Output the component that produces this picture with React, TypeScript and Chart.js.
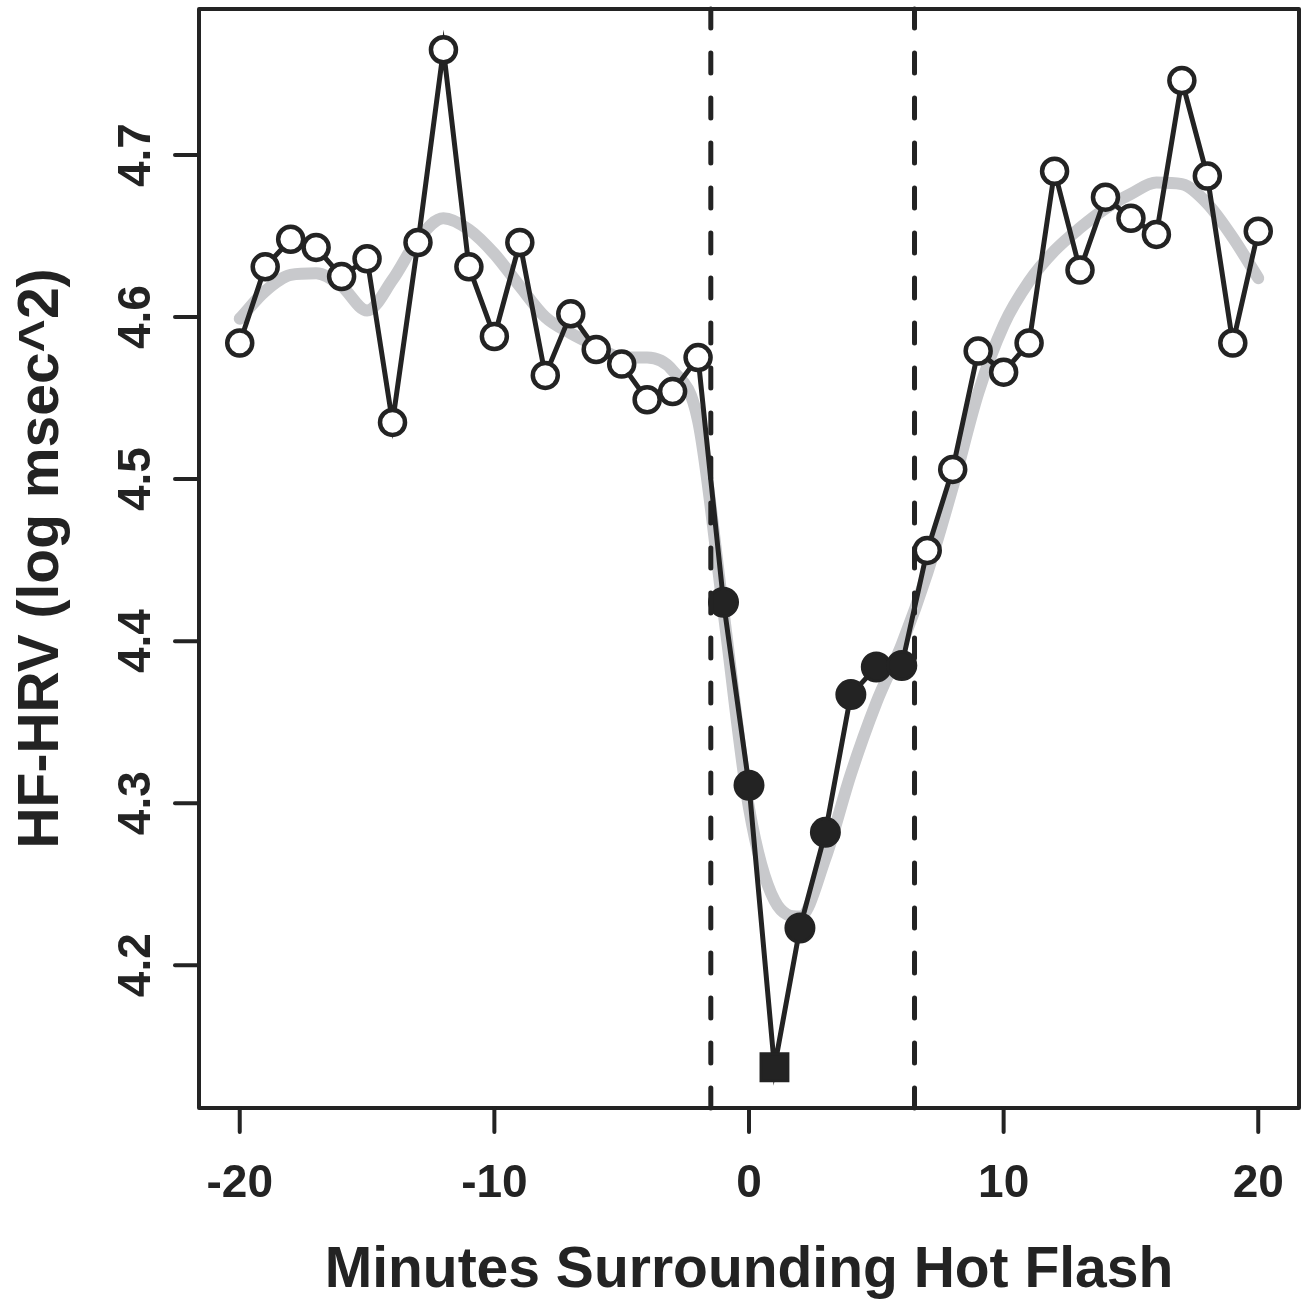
import React, { useEffect, useRef } from "react";
import { Chart, registerables } from "chart.js";

Chart.register(...registerables);

// ---- data ----
const minutes = [
  -20, -19, -18, -17, -16, -15, -14, -13, -12, -11, -10, -9, -8, -7, -6, -5, -4, -3, -2, -1,
  0, 1, 2, 3, 4, 5, 6, 7, 8, 9, 10, 11, 12, 13, 14, 15, 16, 17, 18, 19, 20,
];
const hfHrv = [
  4.584, 4.631, 4.648, 4.643, 4.625, 4.636, 4.535, 4.646, 4.765, 4.631, 4.588, 4.646, 4.564,
  4.602, 4.580, 4.571, 4.549, 4.554, 4.575, 4.424, 4.311, 4.137, 4.223, 4.282, 4.367, 4.384,
  4.385, 4.456, 4.506, 4.579, 4.566, 4.584, 4.690, 4.629, 4.674, 4.661, 4.651, 4.746, 4.687,
  4.584, 4.653,
];
const smoothFit = [
  4.599, 4.616, 4.626, 4.627, 4.619, 4.604, 4.623, 4.648, 4.661, 4.654, 4.639, 4.619, 4.600,
  4.590, 4.582, 4.575, 4.575, 4.567, 4.536, 4.418, 4.297, 4.240, 4.230, 4.266, 4.318, 4.362,
  4.398, 4.442, 4.495, 4.553, 4.595, 4.622, 4.641, 4.655, 4.667, 4.676, 4.683, 4.682, 4.670,
  4.649, 4.624,
];
const filledMinutes = [-1, 0, 1, 2, 3, 4, 5, 6];
const squareMinutes = [1];
const flashBounds = [-1.5, 6.5];
const xTicks = [-20, -10, 0, 10, 20];
const yTicks = [4.2, 4.3, 4.4, 4.5, 4.6, 4.7];
const xTitle = "Minutes Surrounding Hot Flash";
const yTitle = "HF-HRV (log msec^2)";

const INK = "#232323";
const GREY = "#c8c9cc";
const FONT = '"Liberation Sans", Arial, Helvetica, sans-serif';

const xMinData = Math.min(...minutes);
const xMaxData = Math.max(...minutes);
const yMinData = Math.min(...hfHrv);
const yMaxData = Math.max(...hfHrv);
const xExt = (xMaxData - xMinData) * 0.04;
const yExt = (yMaxData - yMinData) * 0.04;

const rAxesPlugin = {
  id: "rAxes",
  afterDatasetsDraw(chart: any) {
    const { ctx, chartArea: a, scales } = chart;
    const x = scales.x;
    const y = scales.y;
    ctx.save();
    ctx.strokeStyle = INK;
    ctx.fillStyle = INK;

    // dashed hot-flash boundaries
    ctx.lineWidth = 5;
    ctx.lineCap = "round";
    ctx.setLineDash([20, 25]);
    flashBounds.forEach((v) => {
      const px = x.getPixelForValue(v);
      ctx.beginPath();
      ctx.moveTo(px, a.bottom);
      ctx.lineTo(px, a.top);
      ctx.stroke();
    });
    ctx.setLineDash([]);

    // box
    ctx.lineWidth = 4;
    ctx.lineJoin = "round";
    ctx.lineCap = "round";
    ctx.strokeRect(a.left, a.top, a.right - a.left, a.bottom - a.top);

    // ticks
    xTicks.forEach((v) => {
      const px = x.getPixelForValue(v);
      ctx.beginPath();
      ctx.moveTo(px, a.bottom);
      ctx.lineTo(px, a.bottom + 24);
      ctx.stroke();
    });
    yTicks.forEach((v) => {
      const py = y.getPixelForValue(v);
      ctx.beginPath();
      ctx.moveTo(a.left, py);
      ctx.lineTo(a.left - 24, py);
      ctx.stroke();
    });

    // tick labels
    ctx.font = `bold 46px ${FONT}`;
    ctx.textAlign = "center";
    ctx.textBaseline = "alphabetic";
    xTicks.forEach((v) => {
      ctx.fillText(String(v), x.getPixelForValue(v), a.bottom + 89);
    });
    yTicks.forEach((v) => {
      ctx.save();
      ctx.translate(a.left - 49, y.getPixelForValue(v));
      ctx.rotate(-Math.PI / 2);
      ctx.fillText(v.toFixed(1), 0, 0);
      ctx.restore();
    });

    // titles
    ctx.font = `bold 57px ${FONT}`;
    ctx.fillText(xTitle, (a.left + a.right) / 2, a.bottom + 179);
    ctx.save();
    ctx.translate(a.left - 141, (a.top + a.bottom) / 2);
    ctx.rotate(-Math.PI / 2);
    ctx.fillText(yTitle, 0, 0);
    ctx.restore();

    ctx.restore();
  },
};

export default function App() {
  const canvasRef = useRef<HTMLCanvasElement | null>(null);

  useEffect(() => {
    const canvas = canvasRef.current;
    if (!canvas) return;

    const isFilled = minutes.map((m) => filledMinutes.includes(m));
    const isSquare = minutes.map((m) => squareMinutes.includes(m));

    const chart = new Chart(canvas, {
      type: "line",
      data: {
        datasets: [
          {
            label: "observed",
            data: minutes.map((m, i) => ({ x: m, y: hfHrv[i] })),
            borderColor: INK,
            borderWidth: 5,
            tension: 0,
            fill: false,
            pointStyle: isSquare.map((s) => (s ? "rect" : "circle")) as any,
            pointRadius: minutes.map((_, i) => (isSquare[i] ? 19 : isFilled[i] ? 14 : 12.5)),
            pointBorderWidth: minutes.map((_, i) => (isFilled[i] ? 3 : 4.5)),
            pointBackgroundColor: isFilled.map((f) => (f ? INK : "#ffffff")),
            pointBorderColor: INK,
            order: 1,
            clip: false as any,
          },
          {
            label: "smooth",
            data: minutes.map((m, i) => ({ x: m, y: smoothFit[i] })),
            borderColor: GREY,
            borderWidth: 12,
            borderCapStyle: "round",
            borderJoinStyle: "round",
            cubicInterpolationMode: "monotone",
            pointRadius: 0,
            fill: false,
            order: 2,
          },
        ],
      },
      options: {
        animation: false,
        responsive: false,
        devicePixelRatio: 1,
        events: [],
        layout: { autoPadding: false, padding: { left: 199, right: 10, top: 9, bottom: 192 } },
        plugins: { legend: { display: false }, tooltip: { enabled: false } },
        scales: {
          x: {
            type: "linear",
            display: false,
            min: xMinData - xExt,
            max: xMaxData + xExt,
          },
          y: {
            type: "linear",
            display: false,
            min: yMinData - yExt,
            max: yMaxData + yExt,
          },
        },
      },
      plugins: [rAxesPlugin],
    });

    return () => chart.destroy();
  }, []);

  return (
    <div style={{ position: "absolute", left: 0, top: 0, width: 1309, height: 1300, background: "#fff" }}>
      <canvas ref={canvasRef} width={1309} height={1300} style={{ display: "block" }} />
    </div>
  );
}
